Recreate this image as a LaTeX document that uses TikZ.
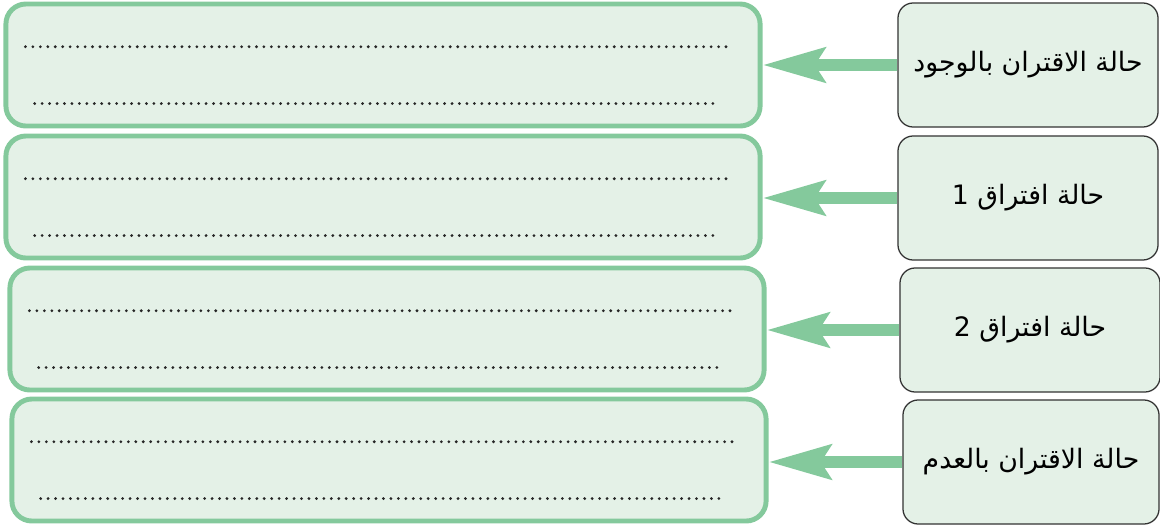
\documentclass[tikz,border=0pt]{standalone}
\usepackage{fontspec}
\usepackage{tikz}
\usetikzlibrary{positioning,arrows.meta}
\newfontfamily\arabicfont[Script=Arabic]{DejaVu Sans}
\TeXXeTstate=1
\definecolor{boxgreen}{HTML}{84C99C}
\definecolor{palegreen}{HTML}{E4F1E7}
\tikzset{
  answerbox/.style={draw=boxgreen,line width=3.5pt,fill=palegreen,rounded corners=0.5cm,
    minimum width=18.85cm,minimum height=3.05cm},
  casebox/.style={draw=black!80,line width=0.9pt,fill=palegreen,rounded corners=0.38cm,
    minimum width=6.5cm,minimum height=3.1cm,inner sep=2pt,font=\arabicfont\fontsize{19}{23}\selectfont},
  dotline/.style={line width=2.2pt,line cap=round,dash pattern=on 0pt off 5.3pt,black!85},
  fatarrow/.style={draw=boxgreen,line width=8.5pt,-{Stealth[length=1.55cm,width=0.85cm,inset=0.25cm]}}
}
\begin{document}
\begin{tikzpicture}[x=0.025cm,y=-0.025cm]
      \useasboundingbox (0,0) rectangle (1160,527);
      % answer boxes on the left
      \node[answerbox](a1) at (383,65){};
      \node[answerbox](a2) at (383,197){};
      \node[answerbox](a3) at (387,329){};
      \node[answerbox](a4) at (389,460){};
      % case boxes on the right
      \node[casebox](c1) at (1028,65){\beginR حالة الاقتران بالوجود\endR};
      \node[casebox](c2) at (1028,198){\beginR حالة افتراق 1\endR};
      \node[casebox](c3) at (1030,330){\beginR حالة افتراق 2\endR};
      \node[casebox,minimum width=6.4cm](c4) at (1031,462){\beginR حالة الاقتران بالعدم\endR};
      % dotted lines and arrows
      \foreach \i in {1,...,4}{
        \draw[dotline] ([xshift=0.55cm,yshift=-1.13cm]a\i.north west) -- ([xshift=18.1cm,yshift=-1.13cm]a\i.north west);
        \draw[dotline] ([xshift=0.78cm,yshift=-2.55cm]a\i.north west) -- ([xshift=17.9cm,yshift=-2.55cm]a\i.north west);
        \draw[fatarrow] (c\i.west) -- (a\i.east |- c\i.west);
      }
    \end{tikzpicture}
\end{document}
